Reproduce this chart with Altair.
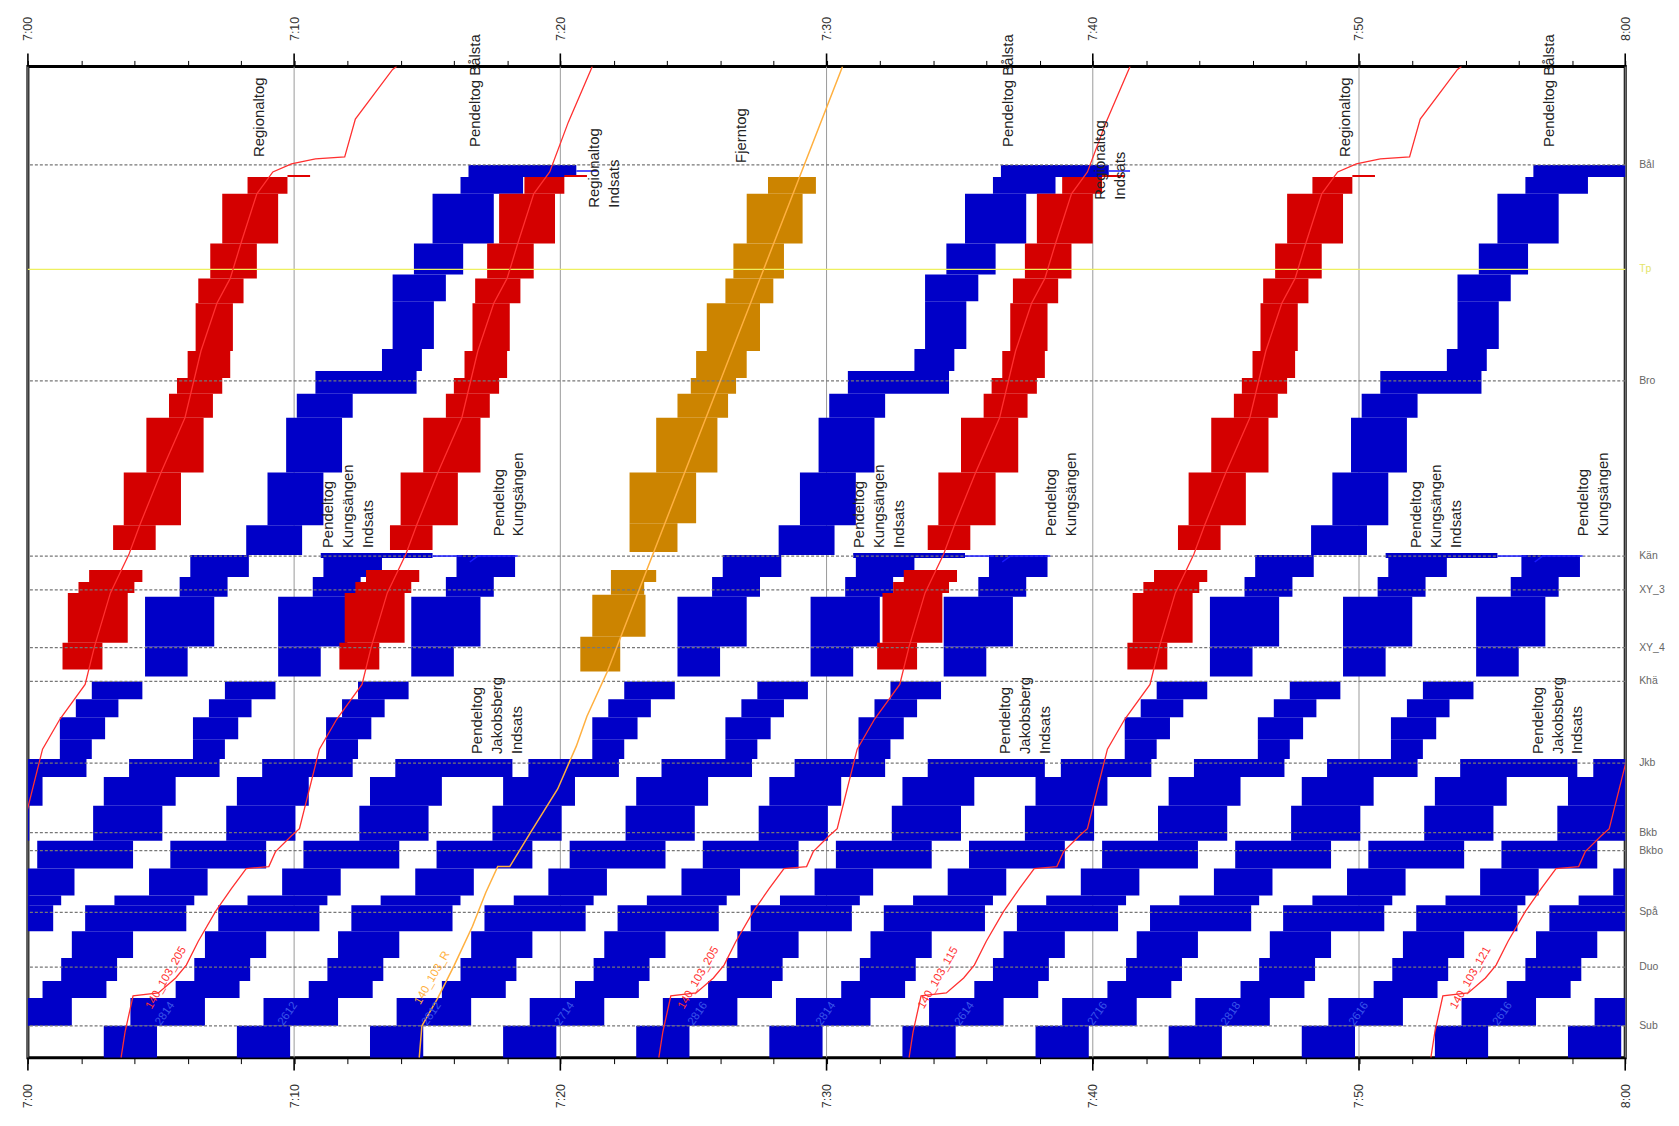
import altair as alt
import pandas as pd

# ---------------- data ----------------
# stations: km along the line (Sundbyberg at the bottom -> Bålsta at the top)
station_names = ["Sub", "Duo", "Spå", "Bkbo", "Bkb", "Jkb", "Khä", "XY_4", "XY_3", "Kän", "Bro", "Tp", "Bål"]
station_km = [1.6, 4.55, 7.3, 10.4, 11.3, 14.8, 18.9, 20.6, 23.5, 25.2, 34.0, 39.6, 44.85]

# time axis: minutes after 7:00
ten_minute_marks = [0, 10, 20, 30, 40, 50, 60]
two_minute_marks = list(range(0, 61, 2))

# pendeltåg blocking-time template (km_from, km_to, min_from, min_to), minutes after the first block opens
pendel_lower = [
    (0.0, 1.6, -0.25, 1.75), (1.6, 3.0, 0.75, 3.55), (3.0, 3.85, 2.45, 4.85),
    (3.85, 5.0, 3.15, 5.25), (5.0, 6.35, 3.55, 5.85), (6.35, 7.65, 4.05, 7.85),
    (7.65, 8.15, 5.15, 8.15), (8.15, 9.5, 6.45, 8.65), (9.5, 10.9, 7.25, 10.85),
    (10.9, 12.65, 9.35, 11.95), (12.65, 14.1, 9.75, 12.45), (14.1, 15.0, 10.7, 14.1),
    (15.0, 16.0, 13.1, 14.3), (16.0, 17.1, 13.1, 14.8), (17.1, 18.0, 13.7, 15.3),
    (18.0, 18.9, 14.3, 16.2), (19.15, 20.65, 16.3, 17.9), (20.65, 23.15, 16.3, 18.9),
    (23.15, 24.15, 17.6, 19.4), (24.15, 25.25, 18.0, 20.2),
]
pendel_upper = [
    (25.25, 26.75, 20.1, 22.2), (26.75, 29.4, 20.9, 23.0), (29.4, 32.15, 21.6, 23.7),
    (32.15, 33.35, 22.0, 24.1), (33.35, 34.5, 22.7, 26.5), (34.5, 35.6, 25.2, 26.7),
    (35.6, 38.0, 25.6, 27.15), (38.0, 39.35, 25.6, 27.6), (39.35, 40.9, 26.4, 28.25),
    (40.9, 43.4, 27.1, 29.4), (43.4, 44.25, 28.15, 30.5), (44.25, 44.85, 28.45, 32.5),
]
jkb_terminal_block = (14.1, 15.0, 10.7, 15.1)
kan_terminal_bar = (25.1, 25.35, 17.9, 22.1)
kan_indsats_line = [(22.1, 25.2), (23.2, 25.2)]
kan_terminal_line = [(18.5, 24.9), (18.8, 25.2), (20.3, 25.2)]
bal_terminal_line = [(32.5, 44.55), (33.3, 44.55)]

# first-block times of the pendeltåg services (min after 7:00)
balsta_t0 = [-11.9, 8.1, 28.1, 48.1]
kungsangen_indsats_t0 = [-6.9, 13.1, 33.1, 53.1]
kungsangen_t0 = [-1.9, 18.1, 38.1, 58.1]
jakobsberg_indsats_t0 = [-16.9, 3.1, 23.1, 43.1]

# regional trains: blocking times (absolute for the 7:13 train), other trains shifted
regional_blocks = [
    (19.5, 20.85, 11.7, 13.2), (20.85, 23.35, 11.9, 14.15), (23.35, 23.9, 12.3, 14.4),
    (23.9, 24.5, 12.7, 14.7),
    (25.5, 26.75, 13.6, 15.2), (26.75, 29.4, 14.0, 16.15), (29.4, 32.15, 14.85, 17.0),
    (32.15, 33.35, 15.7, 17.35), (33.35, 34.15, 16.0, 17.7), (34.15, 35.5, 16.4, 18.0),
    (35.5, 37.9, 16.7, 18.1), (37.9, 39.15, 16.8, 18.5), (39.15, 40.9, 17.25, 19.0),
    (40.9, 43.4, 17.7, 19.8), (43.4, 44.25, 18.65, 20.15),
]
regional_stub = (44.3, 20.15, 21.0)
regional_path = [
    (3.5, 0.0), (3.65, 1.3), (3.95, 3.1), (4.9, 3.25), (5.55, 4.0), (5.95, 4.65),
    (6.4, 5.85), (7.05, 7.35), (7.65, 8.5), (8.2, 9.5), (9.05, 9.6), (9.3, 10.35),
    (9.9, 11.15), (10.2, 11.5), (10.95, 15.5), (11.6, 17.0), (12.55, 18.75),
    (12.9, 20.65), (13.5, 23.35), (14.2, 25.3), (14.6, 26.75), (15.4, 29.4),
    (16.3, 32.15), (16.9, 35.5), (17.5, 37.9), (18.0, 39.15), (18.4, 40.9),
    (19.0, 43.4), (19.6, 44.5),
]
regional_tail = [(20.3, 44.9), (21.2, 45.15), (22.3, 45.25), (22.7, 47.15), (24.1, 49.65), (24.25, 49.8)]
indsats_tail = [(20.3, 47.0), (21.2, 49.8)]
regional_offsets = [-10.4, 0.0, 20.2, 29.6, 49.2]
regional_kinds = ["regional", "indsats", "indsats", "regional", "regional"]

# fjerntog (orange)
fjern_blocks = [
    (19.4, 21.15, 20.75, 22.25), (21.15, 23.25, 21.2, 23.2), (23.25, 23.9, 21.9, 23.15),
    (23.9, 24.5, 21.9, 23.6),
    (25.4, 26.85, 22.6, 24.4), (26.85, 29.4, 22.6, 25.1), (29.4, 32.15, 23.6, 25.9),
    (32.15, 33.35, 24.4, 26.3), (33.35, 34.15, 24.9, 26.6), (34.15, 35.5, 25.1, 27.0),
    (35.5, 37.9, 25.5, 27.5), (37.9, 39.15, 26.2, 28.0), (39.15, 40.9, 26.5, 28.4),
    (40.9, 43.4, 27.0, 29.1), (43.4, 44.25, 27.8, 29.6),
]
fjern_path = [
    (14.7, 0.0), (14.8, 1.6), (15.4, 3.0), (16.0, 4.6), (16.7, 6.6), (17.2, 8.3),
    (17.65, 9.6), (18.1, 9.6), (18.9, 11.35), (19.9, 13.5), (20.6, 15.65),
    (21.0, 17.15), (21.75, 19.35), (30.6, 49.8),
]

# annotations (text, minute, km) rotated
train_labels = [
    ("Regionaltog", 8.42, 45.25), ("Pendeltog   Bålsta", 16.52, 45.75),
    ("Regionaltog\nIndsats", 21.02, 42.7), ("Fjerntog", 26.52, 44.95),
    ("Pendeltog   Bålsta", 36.57, 45.75), ("Regionaltog\nIndsats", 40.02, 43.1),
    ("Regionaltog", 49.22, 45.25), ("Pendeltog   Bålsta", 56.87, 45.75),
    ("Pendeltog\nKungsängen\nIndsats", 11.02, 25.6), ("Pendeltog\nKungsängen", 17.42, 26.2),
    ("Pendeltog\nKungsängen\nIndsats", 30.95, 25.6), ("Pendeltog\nKungsängen", 38.17, 26.2),
    ("Pendeltog\nKungsängen\nIndsats", 51.87, 25.6), ("Pendeltog\nKungsängen", 58.17, 26.2),
    ("Pendeltog\nJakobsberg\nIndsats", 16.62, 15.25), ("Pendeltog\nJakobsberg\nIndsats", 36.44, 15.25),
    ("Pendeltog\nJakobsberg\nIndsats", 56.45, 15.25),
]
number_texts = ["2814", "2612", "2812", "2714", "2816", "2814", "2614", "2716", "2818", "2616", "2616"]
number_minutes = [5.16, 9.77, 15.17, 20.17, 25.17, 29.98, 35.19, 40.19, 45.2, 50.0, 55.4]
number_km = 2.2
path_label_texts = ["140_103_205", "140_103_R", "140_103_205", "140_103_115", "140_103_121"]
path_label_minutes = [5.2, 15.2, 25.2, 34.2, 54.2]
path_label_km = [4.0, 4.0, 4.0, 4.0, 4.0]
path_label_colors = ["#ff3030", "#ffb040", "#ff3030", "#ff3030", "#ff3030"]

# ---------------- build tables ----------------
rects = []
def add(kind, lo, hi, a, b):
    if b < 0 or a > 60:
        return
    rects.append(dict(kind=kind, km=lo, km2=hi, t=max(a, -1), t2=min(b, 61)))

for t0 in balsta_t0:
    for lo, hi, a, b in pendel_lower + pendel_upper:
        add("pendel", lo, hi, t0 + a, t0 + b)
for t0 in kungsangen_indsats_t0 + kungsangen_t0:
    for lo, hi, a, b in pendel_lower:
        add("pendel", lo, hi, t0 + a, t0 + b)
for t0 in kungsangen_indsats_t0:
    lo, hi, a, b = kan_terminal_bar
    add("pendel", lo, hi, t0 + a, t0 + b)
for t0 in jakobsberg_indsats_t0:
    for lo, hi, a, b in pendel_lower:
        if hi < 15.0:
            add("pendel", lo, hi, t0 + a, t0 + b)
    lo, hi, a, b = jkb_terminal_block
    add("pendel", lo, hi, t0 + a, t0 + b)
for off in regional_offsets:
    for lo, hi, a, b in regional_blocks:
        add("regional", lo, hi, off + a, off + b)
for lo, hi, a, b in fjern_blocks:
    add("fjern", lo, hi, a, b)
rect_df = pd.DataFrame(rects)

paths = []
for i, (off, kind) in enumerate(zip(regional_offsets, regional_kinds)):
    pts = regional_path + (regional_tail if kind == "regional" else indsats_tail)
    for j, (t, km) in enumerate(pts):
        paths.append(dict(id=f"r{i}", o=j, t=t + off, km=km, col="#ff3030", w=1.3))
    km, a, b = regional_stub
    paths.append(dict(id=f"rs{i}", o=0, t=a + off, km=km, col="#e00000", w=2.0))
    paths.append(dict(id=f"rs{i}", o=1, t=b + off, km=km, col="#e00000", w=2.0))
for j, (t, km) in enumerate(fjern_path):
    paths.append(dict(id="f", o=j, t=t, km=km, col="#ffb040", w=1.5))
for k, t0 in enumerate(kungsangen_t0):
    for j, (t, km) in enumerate(kan_terminal_line):
        paths.append(dict(id=f"k{k}", o=j, t=t + t0, km=km, col="#1a1aff", w=1.5))
for k, t0 in enumerate(kungsangen_indsats_t0):
    for j, (t, km) in enumerate(kan_indsats_line):
        paths.append(dict(id=f"ki{k}", o=j, t=t + t0, km=km, col="#1a1aff", w=1.5))
for k, t0 in enumerate(balsta_t0):
    for j, (t, km) in enumerate(bal_terminal_line):
        paths.append(dict(id=f"b{k}", o=j, t=t + t0, km=km, col="#1a1aff", w=1.5))
path_df = pd.DataFrame(paths)

station_df = pd.DataFrame(dict(name=station_names, km=station_km))
dotted_df = station_df[station_df.name != "Tp"]
tp_df = station_df[station_df.name == "Tp"]
label_df = pd.DataFrame(train_labels, columns=["text", "t", "km"])
num_df = pd.DataFrame(dict(text=number_texts, t=number_minutes, km=[number_km] * len(number_texts)))
pl_df = pd.DataFrame(dict(text=path_label_texts, t=path_label_minutes, km=path_label_km, col=path_label_colors))

# ---------------- chart ----------------
W, H = 1605, 996
FONT = "Liberation Sans"
xs = alt.Scale(domain=[0, 60], nice=False, zero=False)
ys = alt.Scale(domain=[0, 49.8], nice=False, zero=False)
label_expr = ("datum.value % 10 == 0 ? (datum.value == 60 ? '8:00' : "
              "'7:' + (datum.value == 0 ? '00' : datum.value)) : ''")
axis_common = dict(values=two_minute_marks, labelExpr=label_expr, labelAngle=270,
                   labelFont=FONT, labelFontSize=12.5, labelColor="#333", tickColor="black",
                   tickSize=6, tickWidth=1, domain=False, grid=False, title=None,
                   labelFlush=False, labelOverlap=False, labelBaseline="middle")
top_axis = alt.Axis(orient="top", labelAlign="left", labelPadding=20, **axis_common)
bottom_axis = alt.Axis(orient="bottom", labelAlign="right", labelPadding=20, **axis_common)

tdf = pd.DataFrame(dict(t=ten_minute_marks))
grid = alt.Chart(tdf).mark_rule(color="#9a9a9a", strokeWidth=1).encode(
    x=alt.X("t:Q", scale=xs, axis=top_axis))

blocks = alt.Chart(rect_df).mark_rect(clip=True).encode(
    x=alt.X("t:Q", scale=xs, axis=bottom_axis), x2="t2",
    y=alt.Y("km:Q", scale=ys, axis=None), y2="km2",
    color=alt.Color("kind:N", legend=None,
                    scale=alt.Scale(domain=["pendel", "regional", "fjern"],
                                    range=["#0000c8", "#d40000", "#cc8400"])))

station_lines = alt.Chart(dotted_df).mark_rule(color="#777", strokeWidth=1.2, strokeDash=[3, 2]).encode(
    y=alt.Y("km:Q", scale=ys, axis=None))
tp_line = alt.Chart(tp_df).mark_rule(color="#eef060", strokeWidth=1.3).encode(
    y=alt.Y("km:Q", scale=ys, axis=None))

lines = alt.Chart(path_df).mark_line(clip=True).encode(
    x=alt.X("t:Q", scale=xs, axis=None), y=alt.Y("km:Q", scale=ys, axis=None),
    detail="id:N", order="o:Q",
    color=alt.Color("col:N", scale=None), strokeWidth=alt.StrokeWidth("w:Q", scale=None))

station_text = alt.Chart(station_df).mark_text(align="left", baseline="middle", font=FONT,
                                               fontSize=10.5).encode(
    x=alt.value(W + 14), y=alt.Y("km:Q", scale=ys, axis=None),
    text="name:N",
    color=alt.condition("datum.name == 'Tp'", alt.value("#e4e46a"), alt.value("#666")))

labels = alt.Chart(label_df).mark_text(angle=270, align="left", baseline="top", font=FONT,
                                       fontSize=15, lineBreak="\n", lineHeight=20,
                                       color="#222").encode(
    x=alt.X("t:Q", scale=xs, axis=None), y=alt.Y("km:Q", scale=ys, axis=None), text="text:N")

nums = alt.Chart(num_df).mark_text(angle=305, align="center", baseline="middle", font=FONT,
                                   fontSize=11.5, color="#3a55e8").encode(
    x=alt.X("t:Q", scale=xs, axis=None), y=alt.Y("km:Q", scale=ys, axis=None), text="text:N")

pls = alt.Chart(pl_df).mark_text(angle=300, align="center", baseline="middle", font=FONT,
                                 fontSize=11.5).encode(
    x=alt.X("t:Q", scale=xs, axis=None), y=alt.Y("km:Q", scale=ys, axis=None), text="text:N",
    color=alt.Color("col:N", scale=None))

major_top = alt.Chart(tdf).mark_rule(color="black", strokeWidth=1.6).encode(
    x=alt.X("t:Q", scale=xs, axis=None), y=alt.value(-13), y2=alt.value(0))
major_bottom = alt.Chart(tdf).mark_rule(color="black", strokeWidth=1.6).encode(
    x=alt.X("t:Q", scale=xs, axis=None), y=alt.value(H), y2=alt.value(H + 13))

chart = alt.layer(grid, blocks, station_lines, tp_line, lines, labels, nums, pls,
                  station_text, major_top, major_bottom).resolve_axis(x="independent").properties(
    width=W, height=H, autosize=alt.AutoSizeParams(type="none"),
    padding={"left": 20, "top": 56, "right": 46, "bottom": 66},
    background="white",
).configure_view(stroke="black", strokeWidth=3)

chart.save("out.html", embed_options={"renderer": "svg", "actions": False})
